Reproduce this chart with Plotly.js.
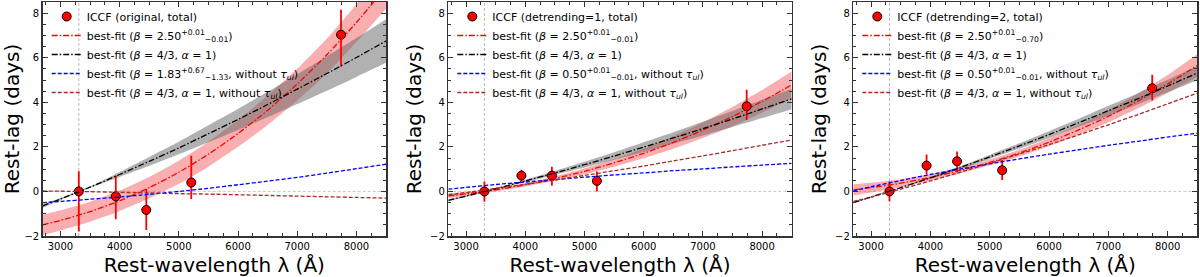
<!DOCTYPE html>
<html><head><meta charset="utf-8">
<script src="https://cdn.plot.ly/plotly-3.0.1.min.js"></script>
<style>html,body{margin:0;padding:0;background:#fff;}#chart{width:1200px;height:277px;}</style>
</head><body><div id="chart"></div>
<script>
// observed wavelengths (Å)
const lam = [3310, 3935, 4450, 5210, 7740];
// panel 1: original
const lag1 = [0, -0.22, -0.83, 0.40, 7.03];
const errHi1 = [0.90, 0.93, 0.94, 1.20, 1.12];
const errLo1 = [1.80, 1.03, 0.90, 0.74, 1.43];
// panel 2: detrending=1
const lag2 = [0, 0.71, 0.71, 0.47, 3.82];
const errHi2 = [0.44, 0.26, 0.40, 0.42, 0.74];
const errLo2 = [0.46, 0.27, 0.45, 0.47, 0.61];
// panel 3: detrending=2
const lag3 = [0, 1.16, 1.35, 0.95, 4.63];
const errHi3 = [0.45, 0.50, 0.44, 0.46, 0.60];
const errLo3 = [0.45, 0.40, 0.50, 0.44, 0.55];

// model curves sampled on a wavelength grid
const grid = [2700, 3000, 3500, 4000, 4500, 5000, 5500, 6000, 6500, 7000, 7500, 8000, 8500];
const red1   = [-1.50,-1.30,-0.91,-0.42,0.17,0.86,1.67,2.60,3.64,4.82,6.13,7.58,9.17];
const red1Lo = [-1.95,-1.75,-1.36,-0.88,-0.31,0.34,1.11,2.00,2.98,4.08,5.29,6.70,8.20];
const red1Hi = [-1.05,-0.85,-0.46,0.04,0.65,1.38,2.23,3.20,4.30,5.50,6.85,8.40,10.1];
const blk1   = [-0.65,-0.34,0.19,0.76,1.35,1.95,2.59,3.23,3.90,4.59,5.29,6.01,6.75];
const blk1Lo = [-0.74,-0.39,0.16,0.65,1.15,1.67,2.21,2.76,3.33,3.92,4.52,5.14,5.77];
const blk1Hi = [-0.56,-0.29,0.22,0.87,1.55,2.23,2.97,3.70,4.47,5.26,6.06,6.88,7.73];
const blue1  = [-0.50,-0.45,-0.35,-0.25,-0.13,0.00,0.14,0.30,0.46,0.63,0.82,1.02,1.22];
const dred1  = [0.02,0.01,-0.01,-0.04,-0.07,-0.10,-0.12,-0.15,-0.18,-0.21,-0.24,-0.27,-0.30];

const red2   = [-0.20,-0.11,0.07,0.30,0.58,0.90,1.28,1.71,2.20,2.75,3.36,4.04,4.78];
const red2Lo = [-0.30,-0.19,0.00,0.22,0.48,0.77,1.11,1.49,1.92,2.40,2.93,3.53,4.18];
const red2Hi = [-0.10,-0.03,0.14,0.38,0.68,1.03,1.45,1.93,2.48,3.10,3.79,4.55,5.38];
const blk2   = [-0.40,-0.21,0.12,0.47,0.83,1.20,1.59,1.99,2.40,2.82,3.25,3.70,4.15];
const blk2Lo = [-0.45,-0.24,0.10,0.42,0.74,1.07,1.42,1.77,2.14,2.51,2.89,3.29,3.69];
const blk2Hi = [-0.35,-0.18,0.14,0.52,0.92,1.33,1.76,2.21,2.66,3.13,3.61,4.11,4.61];
const blue2  = [0.10,0.18,0.31,0.42,0.53,0.64,0.74,0.83,0.93,1.01,1.10,1.18,1.26];
const dred2  = [-0.15,-0.05,0.13,0.32,0.51,0.72,0.93,1.14,1.37,1.59,1.83,2.07,2.31];

const red3   = [0.07,0.17,0.37,0.63,0.94,1.30,1.72,2.21,2.76,3.37,4.06,4.82,5.65];
const red3Lo = [-0.18,-0.05,0.19,0.48,0.81,1.17,1.57,2.03,2.54,3.10,3.73,4.42,5.15];
const red3Hi = [0.32,0.39,0.55,0.78,1.07,1.43,1.87,2.39,2.98,3.64,4.39,5.22,6.15];
const blk3   = [-0.50,-0.25,0.17,0.61,1.07,1.55,2.04,2.55,3.08,3.62,4.16,4.73,5.31];
const blk3Lo = [-0.53,-0.27,0.16,0.57,1.01,1.46,1.92,2.40,2.90,3.40,3.91,4.45,4.99];
const blk3Hi = [-0.47,-0.23,0.18,0.65,1.13,1.64,2.16,2.70,3.26,3.84,4.41,5.01,5.63];
const blue3  = [0.03,0.21,0.49,0.76,1.00,1.24,1.46,1.67,1.87,2.07,2.25,2.44,2.61];
const dred3  = [-0.45,-0.25,0.10,0.47,0.86,1.26,1.68,2.10,2.54,2.99,3.45,3.93,4.41];

// legend labels
const pointLabels = ['ICCF (original, total)', 'ICCF (detrending=1, total)', 'ICCF (detrending=2, total)'];
const redLabels = [
  'best-fit (<i>β</i> = 2.50<sup>+0.01</sup><sub>−0.01</sub>)',
  'best-fit (<i>β</i> = 2.50<sup>+0.01</sup><sub>−0.01</sub>)',
  'best-fit (<i>β</i> = 2.50<sup>+0.01</sup><sub>−0.70</sub>)'];
const blkLabel = 'best-fit (<i>β</i> = 4/3, <i>α</i> = 1)';
const blueLabels = [
  'best-fit (<i>β</i> = 1.83<sup>+0.67</sup><sub>−1.33</sub>, without <i>τ<sub>ul</sub></i>)',
  'best-fit (<i>β</i> = 0.50<sup>+0.01</sup><sub>−0.01</sub>, without <i>τ<sub>ul</sub></i>)',
  'best-fit (<i>β</i> = 0.50<sup>+0.01</sup><sub>−0.01</sub>, without <i>τ<sub>ul</sub></i>)'];
const dredLabel = 'best-fit (<i>β</i> = 4/3, <i>α</i> = 1, without <i>τ<sub>ul</sub></i>)';

const panels = [
  {lag: lag1, hi: errHi1, lo: errLo1, red: red1, redLo: red1Lo, redHi: red1Hi, blk: blk1, blkLo: blk1Lo, blkHi: blk1Hi, blue: blue1, dred: dred1},
  {lag: lag2, hi: errHi2, lo: errLo2, red: red2, redLo: red2Lo, redHi: red2Hi, blk: blk2, blkLo: blk2Lo, blkHi: blk2Hi, blue: blue2, dred: dred2},
  {lag: lag3, hi: errHi3, lo: errLo3, red: red3, redLo: red3Lo, redHi: red3Hi, blk: blk3, blkLo: blk3Lo, blkHi: blk3Hi, blue: blue3, dred: dred3}
];

const W = 1200, H = 277;
const xDomains = [[42.7/W, 386/W], [448.3/W, 791.7/W], [853.3/W, 1197.3/W]];
const yDomain = [1 - 236/H, 1 - 2/H];
const DASHDOT = '6px,2px,1.5px,2px';
const DASH = '4px,2px';
const LW = 1.3;
const FONT = 'DejaVu Sans, sans-serif';

const traces = [];
const layout = {
  width: W, height: H,
  margin: {l: 0, r: 0, t: 0, b: 0},
  paper_bgcolor: '#fff', plot_bgcolor: '#fff',
  font: {family: FONT, size: 10, color: '#000'},
  showlegend: true,
  shapes: [],
};

panels.forEach((p, i) => {
  const n = i === 0 ? '' : String(i + 1);
  const xa = 'x' + n, ya = 'y' + n;
  const lg = 'legend' + n;
  const spl = {shape: 'spline', smoothing: 0.6};
  // red band
  traces.push({x: grid, y: p.redLo, xaxis: xa, yaxis: ya, mode: 'lines', line: Object.assign({width: 0}, spl), showlegend: false, hoverinfo: 'skip'});
  traces.push({x: grid, y: p.redHi, xaxis: xa, yaxis: ya, mode: 'lines', line: Object.assign({width: 0}, spl), fill: 'tonexty', fillcolor: 'rgba(240,55,55,0.40)', showlegend: false, hoverinfo: 'skip'});
  // gray band
  traces.push({x: grid, y: p.blkLo, xaxis: xa, yaxis: ya, mode: 'lines', line: Object.assign({width: 0}, spl), showlegend: false, hoverinfo: 'skip'});
  traces.push({x: grid, y: p.blkHi, xaxis: xa, yaxis: ya, mode: 'lines', line: Object.assign({width: 0}, spl), fill: 'tonexty', fillcolor: 'rgba(100,100,100,0.50)', showlegend: false, hoverinfo: 'skip'});
  // points (legend first)
  traces.push({x: lam, y: p.lag, xaxis: xa, yaxis: ya, mode: 'markers', name: pointLabels[i], legend: lg,
    marker: {color: '#ff0000', size: 9, line: {color: '#000', width: 1}},
    error_y: {type: 'data', symmetric: false, array: p.hi, arrayminus: p.lo, color: '#ff0000', thickness: 1.8, width: 0}});
  traces.push({x: grid, y: p.red, xaxis: xa, yaxis: ya, mode: 'lines', name: redLabels[i], legend: lg,
    line: Object.assign({color: '#ff0000', width: LW, dash: DASHDOT}, spl)});
  traces.push({x: grid, y: p.blk, xaxis: xa, yaxis: ya, mode: 'lines', name: blkLabel, legend: lg,
    line: Object.assign({color: '#000', width: LW, dash: DASHDOT}, spl)});
  traces.push({x: grid, y: p.blue, xaxis: xa, yaxis: ya, mode: 'lines', name: blueLabels[i], legend: lg,
    line: Object.assign({color: '#0000ff', width: LW, dash: DASH}, spl)});
  traces.push({x: grid, y: p.dred, xaxis: xa, yaxis: ya, mode: 'lines', name: dredLabel, legend: lg,
    line: Object.assign({color: '#a52a2a', width: LW, dash: DASH}, spl)});

  const axCommon = {
    showgrid: false, zeroline: false, ticks: 'inside', ticklen: 5, tickwidth: 1, tickcolor: '#333',
    showline: true, linecolor: '#333', linewidth: 1.5, mirror: 'allticks',
    tickfont: {family: FONT, size: 10, color: '#000'},
  };
  layout['xaxis' + n] = Object.assign({}, axCommon, {
    domain: xDomains[i], anchor: ya, range: [2700, 8500], dtick: 1000, tick0: 0,
    minor: {dtick: 250, ticks: 'inside', ticklen: 3, tickcolor: '#333', showgrid: false},
    title: {text: 'Rest-wavelength λ (Å)', font: {family: FONT, size: 20, color: '#000'}, standoff: 7},
  });
  layout['yaxis' + n] = Object.assign({}, axCommon, {
    domain: yDomain, anchor: xa, range: [-2, 8.5], dtick: 2, tick0: 0,
    minor: {dtick: 0.5, ticks: 'inside', ticklen: 3, tickcolor: '#333', showgrid: false},
    title: {text: 'Rest-lag (days)', font: {family: FONT, size: 20, color: '#000'}, standoff: 3},
  });
  // reference lines: zero-lag and reference band wavelength
  layout.shapes.push({type: 'line', xref: xa + ' domain', yref: ya, x0: 0, x1: 1, y0: lag1[0], y1: lag1[0],
    line: {color: '#c8c8c8', width: 1, dash: '3px,2px'}, layer: 'below'});
  layout.shapes.push({type: 'line', xref: xa, yref: ya + ' domain', x0: lam[0], x1: lam[0], y0: 0, y1: 1,
    line: {color: '#aaaaaa', width: 0.8, dash: '3px,2px'}, layer: 'below'});
  layout[lg] = {
    x: xDomains[i][0] + 4/W, y: yDomain[1], xanchor: 'left', yanchor: 'top',
    bgcolor: 'rgba(0,0,0,0)', borderwidth: 0, itemwidth: 30, tracegroupgap: 0, traceorder: 'normal',
    font: {family: FONT, size: 11, color: '#000'},
  };
});

Plotly.newPlot('chart', traces, layout, {staticPlot: true, displayModeBar: false});
</script>
</body></html>
